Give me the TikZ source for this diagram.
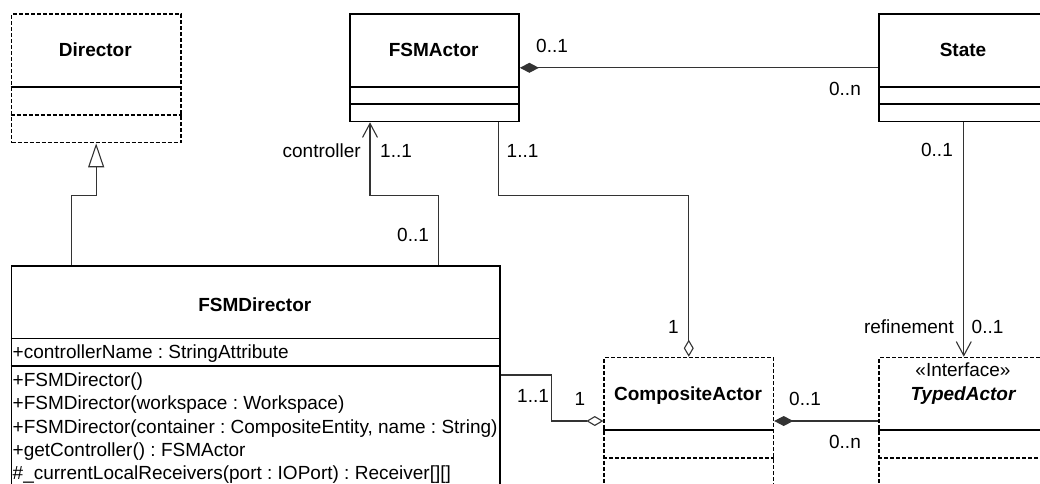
\documentclass[tikz,border=0pt]{standalone}
\usepackage{fontspec}
\setmainfont{Liberation Sans}
\usetikzlibrary{arrows.meta}
\frenchspacing
\begin{document}
\begin{tikzpicture}[x=1pt,y=-1pt,
  font=\fontsize{19}{23.6}\selectfont,
  solidbox/.style={draw=black, line width=1.6pt, inner sep=0pt, anchor=north west, minimum width=169.3pt},
  dashbox/.style={solidbox, dash pattern=on 4pt off 2pt},
  soliddiv/.style={draw=black, line width=1.6pt},
  dashdiv/.style={draw=black, line width=1.6pt, dash pattern=on 4pt off 2pt},
  conn/.style={draw=black!80, line width=1.1pt},
  cname/.style={inner sep=0pt, anchor=base, font=\fontsize{19}{23.6}\selectfont\bfseries},
  member/.style={inner sep=0pt, anchor=base west},
  lblw/.style={inner sep=0pt, anchor=base west},
  lble/.style={inner sep=0pt, anchor=base east},
  vtip/.style={-{Straight Barb[length=14pt, width=15pt, line width=1.1pt]}},
  odia/.style={-{Diamond[open, length=17pt, width=10pt, line width=1.1pt]}},
  fdia/.style={{Diamond[length=19pt, width=10pt]}-}
]
\useasboundingbox (0,0) rectangle (1040,483);
\clip (0,0) rectangle (1040,483);

% ---------- classes ----------
\node[dashbox, minimum height=128.4pt] (director) at (10.7,13.3) {};
\node[solidbox, minimum height=107.4pt] (fsmactor) at (349,13.3) {};
\node[solidbox, minimum height=107.4pt] (state) at (878.3,13.3) {};
\node[solidbox, minimum width=488.3pt, minimum height=235pt] (fsmdirector) at (10.7,265) {};
\node[dashbox, minimum height=170pt] (composite) at (603.3,356.7) {};
\node[dashbox, minimum height=170pt] (typed) at (878.3,356.7) {};

% dividers
\draw[soliddiv] ([yshift=-73.4pt]director.north west) -- ([yshift=-73.4pt]director.north east);
\draw[dashdiv] ([yshift=-101.7pt]director.north west) -- ([yshift=-101.7pt]director.north east);
\draw[soliddiv] ([yshift=-73.4pt]fsmactor.north west) -- ([yshift=-73.4pt]fsmactor.north east);
\draw[soliddiv] ([yshift=-90.7pt]fsmactor.north west) -- ([yshift=-90.7pt]fsmactor.north east);
\draw[soliddiv] ([yshift=-73.4pt]state.north west) -- ([yshift=-73.4pt]state.north east);
\draw[soliddiv] ([yshift=-90.7pt]state.north west) -- ([yshift=-90.7pt]state.north east);
\draw[soliddiv] ([yshift=-73.3pt]fsmdirector.north west) -- ([yshift=-73.3pt]fsmdirector.north east);
\draw[soliddiv] ([yshift=-101pt]fsmdirector.north west) -- ([yshift=-101pt]fsmdirector.north east);
\draw[soliddiv] ([yshift=-73.3pt]composite.north west) -- ([yshift=-73.3pt]composite.north east);
\draw[dashdiv] ([yshift=-101pt]composite.north west) -- ([yshift=-101pt]composite.north east);
\draw[soliddiv] ([yshift=-73.3pt]typed.north west) -- ([yshift=-73.3pt]typed.north east);
\draw[dashdiv] ([yshift=-101pt]typed.north west) -- ([yshift=-101pt]typed.north east);

% class names
\node[cname] (n-director) at (95.3,56.7) {Director};
\node[cname] (n-fsmactor) at (433.7,56.7) {FSMActor};
\node[cname] (n-state) at (963,56.7) {State};
\node[cname] (n-fsmdirector) at (254.8,311.7) {FSMDirector};
\node[cname] (n-composite) at (688,400) {CompositeActor};
\node[inner sep=0pt, anchor=base] (n-stereo) at (963,376.7) {«Interface»};
\node[cname, font=\fontsize{19}{23.6}\selectfont\bfseries\itshape] (n-typed) at (963,400) {TypedActor};

% FSMDirector members
\node[member] (a1) at (12.5,358) {+controllerName : StringAttribute};
\node[member] (m1) at (12.5,386.5) {+FSMDirector()};
\node[member] (m2) at (12.5,409.8) {+FSMDirector(workspace : Workspace)};
\node[member] (m3) at (12.5,433.1) {+FSMDirector(container : CompositeEntity, name : String)};
\node[member] (m4) at (12.5,456.4) {+getController() : FSMActor};
\node[member] (m5) at (12.5,479.7) {\#\_currentLocalReceivers(port : IOPort) : Receiver[][]};

% ---------- connector ports ----------
\coordinate (b1) at (0,195.7);
\coordinate (b2) at (551.7,0);
\coordinate (p-dir-gen) at ([xshift=61pt]fsmdirector.north west);
\coordinate (p-dir-ctrl) at ([xshift=427.6pt]fsmdirector.north west);
\coordinate (p-act-ctrl) at ([xshift=21pt]fsmactor.south west);
\coordinate (p-act-comp) at ([xshift=149.3pt]fsmactor.south west);
\coordinate (p-dir-comp) at ([yshift=-110pt]fsmdirector.north east);
\coordinate (p-comp-dir) at ([yshift=-64.3pt]composite.north west);
\coordinate (p-comp-typ) at ([yshift=-64.3pt]composite.north east);
\coordinate (p-typ-comp) at ([yshift=-64.3pt]typed.north west);

% ---------- connectors ----------
\draw[conn, -{Triangle[open, length=24pt, width=16pt, line width=1.1pt]}]
  (p-dir-gen) |- (director.south |- b1) -- (director.south);
\draw[conn, vtip] (p-dir-ctrl) |- (p-act-ctrl |- b1) -- (p-act-ctrl);
\draw[conn, odia] (p-act-comp) |- (composite.north |- b1) -- (composite.north);
\draw[conn, fdia] (fsmactor.east) -- (state.west);
\draw[conn, vtip] (state.south) -- (typed.north);
\draw[conn, odia] (p-dir-comp) -| (b2 |- p-comp-dir) -- (p-comp-dir);
\draw[conn, fdia] (p-comp-typ) -- (p-typ-comp);

% ---------- labels ----------
\node[lble] (l-ctrl-role) at (361,157.4) {controller};
\node[lblw] (l-ctrl-m1) at (380,157.4) {1..1};
\node[lblw] (l-ctrl-m2) at (397,241.7) {0..1};
\node[lblw] (l-comp-m1) at (506.5,157.4) {1..1};
\node[lblw] (l-st-m1) at (536,52.7) {0..1};
\node[lble] (l-st-m2) at (861,95) {0..n};
\node[lble] (l-ref-m1) at (953,156.7) {0..1};
\node[lble] (l-agg-m2) at (679,333.4) {1};
\node[lble] (l-ref-role) at (954,333.4) {refinement};
\node[lblw] (l-ref-m2) at (971.5,333.4) {0..1};
\node[lblw] (l-dc-m1) at (517,402.4) {1..1};
\node[lblw] (l-dc-m2) at (574.5,405) {1};
\node[lblw] (l-ct-m1) at (789,405.7) {0..1};
\node[lble] (l-ct-m2) at (861,448.4) {0..n};
\end{tikzpicture}
\end{document}
